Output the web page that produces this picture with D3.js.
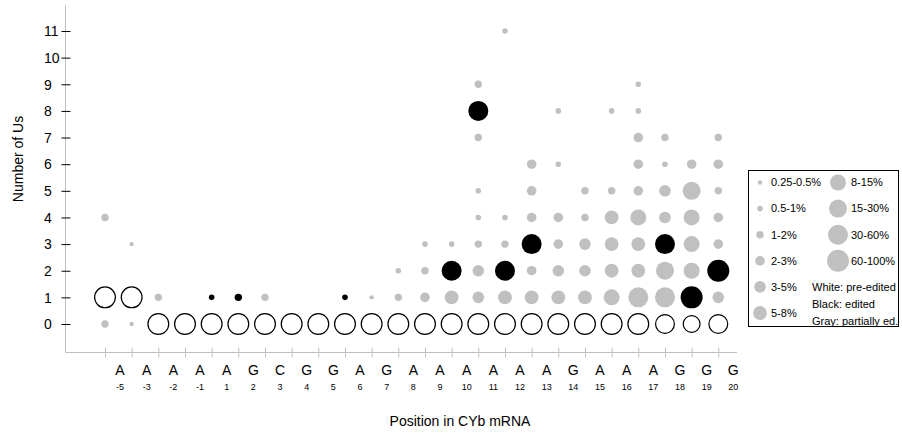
<!DOCTYPE html>
<html>
<head>
<meta charset="utf-8">
<script src="https://cdn.jsdelivr.net/npm/d3@7"></script>
<style>
  body { margin: 0; background: #fff; }
  svg { font-family: Arial, "Liberation Sans", sans-serif; }
</style>
</head>
<body>
<div id="chart"></div>
<script>
// positions along the mRNA and their bases
const positions = ["-5","-3","-2","-1","1","2","3","4","5","6","7","8","9","10","11","12","13","14","15","16","17","18","19","20"];
const bases = ["A","A","A","A","A","G","C","G","G","A","G","A","A","A","A","A","A","G","A","A","A","G","G","G"];
const yTicks = [0,1,2,3,4,5,6,7,8,9,10,11];

// size classes (legend)
const sizeLabels = ["0.25-0.5%","0.5-1%","1-2%","2-3%","3-5%","5-8%","8-15%","15-30%","30-60%","60-100%"];

// [position, number of Us, size class]
const whiteDots = [
  ["-5",1,9],["-3",1,9],["-2",0,9],["-1",0,9],["1",0,9],["2",0,9],["3",0,9],["4",0,9],["5",0,9],
  ["6",0,9],["7",0,9],["8",0,9],["9",0,9],["10",0,9],["11",0,9],["12",0,9],["13",0,9],["14",0,9],
  ["15",0,9],["16",0,9],["17",0,9],["18",0,8],["19",0,7],["20",0,8]
];
const blackDots = [
  ["1",1,1],["2",1,2],["6",1,1],["10",2,8],["11",8,8],["12",2,8],["13",3,8],["18",3,8],["19",1,9],["20",2,9]
];
const grayDots = [
  ["-5",0,2],["-5",4,2],
  ["-3",0,0],["-3",3,0],
  ["-2",1,2],
  ["3",1,2],
  ["7",1,0],
  ["8",1,2],["8",2,1],
  ["9",1,3],["9",2,2],["9",3,1],
  ["10",1,5],["10",3,1],
  ["11",1,4],["11",2,4],["11",3,2],["11",4,1],["11",5,1],["11",7,2],["11",9,2],
  ["12",1,5],["12",3,2],["12",4,1],["12",11,1],
  ["13",1,5],["13",2,3],["13",4,3],["13",5,3],["13",6,3],
  ["14",1,5],["14",2,4],["14",3,3],["14",4,3],["14",6,1],["14",8,1],
  ["15",1,5],["15",2,4],["15",3,4],["15",4,2],["15",5,2],
  ["16",1,6],["16",2,5],["16",3,5],["16",4,5],["16",5,2],["16",8,1],
  ["17",1,8],["17",2,5],["17",3,5],["17",4,6],["17",5,3],["17",6,3],["17",7,3],["17",8,1],["17",9,1],
  ["18",1,8],["18",2,7],["18",4,4],["18",5,4],["18",6,1],["18",7,2],
  ["19",2,6],["19",3,6],["19",4,6],["19",5,7],["19",6,3],
  ["20",1,4],["20",3,3],["20",4,3],["20",5,2],["20",6,3],["20",7,2]
];

const width = 902, height = 432;
const svg = d3.select("#chart").append("svg")
    .attr("width", width)
    .attr("height", height);

const x = d3.scalePoint().domain(positions).range([105, 718.3]);
const y = d3.scaleLinear().domain([0, 11]).range([324, 31]);
const r = d3.scaleOrdinal().domain(d3.range(10)).range([2.2, 2.8, 3.7, 4.8, 5.8, 6.9, 8, 9, 10, 11]);

const axisColor = "#c0c0c0";

// axis lines
svg.append("line")
    .attr("x1", 65.5).attr("x2", 65.5).attr("y1", 5).attr("y2", 352.5)
    .attr("stroke", axisColor);
svg.append("line")
    .attr("x1", 65.5).attr("x2", 737).attr("y1", 352.5).attr("y2", 352.5)
    .attr("stroke", axisColor);

// y axis ticks
const yAxis = svg.append("g")
    .attr("transform", "translate(70.5,0)")
    .call(d3.axisLeft(y).tickValues(yTicks).tickSize(9).tickFormat(d3.format("d")));
yAxis.select(".domain").remove();
yAxis.selectAll(".tick line").attr("stroke", "#000");
yAxis.selectAll(".tick text")
    .attr("x", -26.5)
    .attr("dy", "0.34em")
    .attr("text-anchor", "start")
    .style("font-family", "Arial, 'Liberation Sans', sans-serif")
    .style("font-size", "14px")
    .attr("fill", "#000");

// x axis ticks
const xAxis = svg.append("g")
    .attr("transform", "translate(0,347.5)")
    .call(d3.axisBottom(x).tickSize(10).tickFormat(""));
xAxis.select(".domain").remove();
xAxis.selectAll(".tick line").attr("stroke", axisColor);

// x labels: base letter and position number
svg.selectAll(".base")
    .data(positions)
    .enter().append("text")
    .attr("class", "base")
    .attr("x", d => x(d) + 15)
    .attr("y", 374.5)
    .attr("text-anchor", "middle")
    .style("font-size", "14px")
    .text((d, i) => bases[i]);

svg.selectAll(".pos")
    .data(positions)
    .enter().append("text")
    .attr("class", "pos")
    .attr("x", d => x(d) + 15)
    .attr("y", 390)
    .attr("text-anchor", "middle")
    .style("font-size", "9px")
    .text(d => d);

// axis titles
svg.append("text")
    .attr("x", 460)
    .attr("y", 426)
    .attr("text-anchor", "middle")
    .style("font-size", "14px")
    .text("Position in CYb mRNA");

svg.append("text")
    .attr("transform", "translate(23,159) rotate(-90)")
    .attr("text-anchor", "middle")
    .style("font-size", "14px")
    .text("Number of Us");

// dots
svg.selectAll(".gray")
    .data(grayDots)
    .enter().append("circle")
    .attr("class", "gray")
    .attr("cx", d => x(d[0]))
    .attr("cy", d => y(d[1]))
    .attr("r", d => r(d[2]))
    .attr("fill", "#c0c0c0");

svg.selectAll(".white")
    .data(whiteDots)
    .enter().append("circle")
    .attr("class", "white")
    .attr("cx", d => x(d[0]))
    .attr("cy", d => y(d[1]))
    .attr("r", d => r(d[2]) - 0.6)
    .attr("fill", "#fff")
    .attr("stroke", "#000")
    .attr("stroke-width", 1.2);

svg.selectAll(".black")
    .data(blackDots)
    .enter().append("circle")
    .attr("class", "black")
    .attr("cx", d => x(d[0]))
    .attr("cy", d => y(d[1]))
    .attr("r", d => r(d[2]))
    .attr("fill", "#000");

// legend
const legend = svg.append("g").attr("class", "legend");
legend.append("rect")
    .attr("x", 748.5).attr("y", 170.5)
    .attr("width", 150).attr("height", 156)
    .attr("fill", "#fff")
    .attr("stroke", "#000");

const legendItems = sizeLabels.map((label, i) => ({
    label: label,
    cls: i,
    col: i < 6 ? 0 : 1,
    row: i < 6 ? i : i - 6
}));

legend.selectAll("circle")
    .data(legendItems)
    .enter().append("circle")
    .attr("cx", d => d.col === 0 ? 760 : 838)
    .attr("cy", d => 182.5 + d.row * 26.1)
    .attr("r", d => r(d.cls))
    .attr("fill", "#c0c0c0");

legend.selectAll(".leg-label")
    .data(legendItems)
    .enter().append("text")
    .attr("class", "leg-label")
    .attr("x", d => d.col === 0 ? 771 : 851)
    .attr("y", d => 182.5 + d.row * 26.1)
    .attr("dy", "0.35em")
    .style("font-size", "11px")
    .text(d => d.label);

const keyLines = ["White: pre-edited", "Black: edited", "Gray: partially ed."];
legend.selectAll(".key")
    .data(keyLines)
    .enter().append("text")
    .attr("class", "key")
    .attr("x", 812)
    .attr("y", (d, i) => 287 + i * 17)
    .attr("dy", "0.35em")
    .style("font-size", "11px")
    .text(d => d);
</script>
</body>
</html>
